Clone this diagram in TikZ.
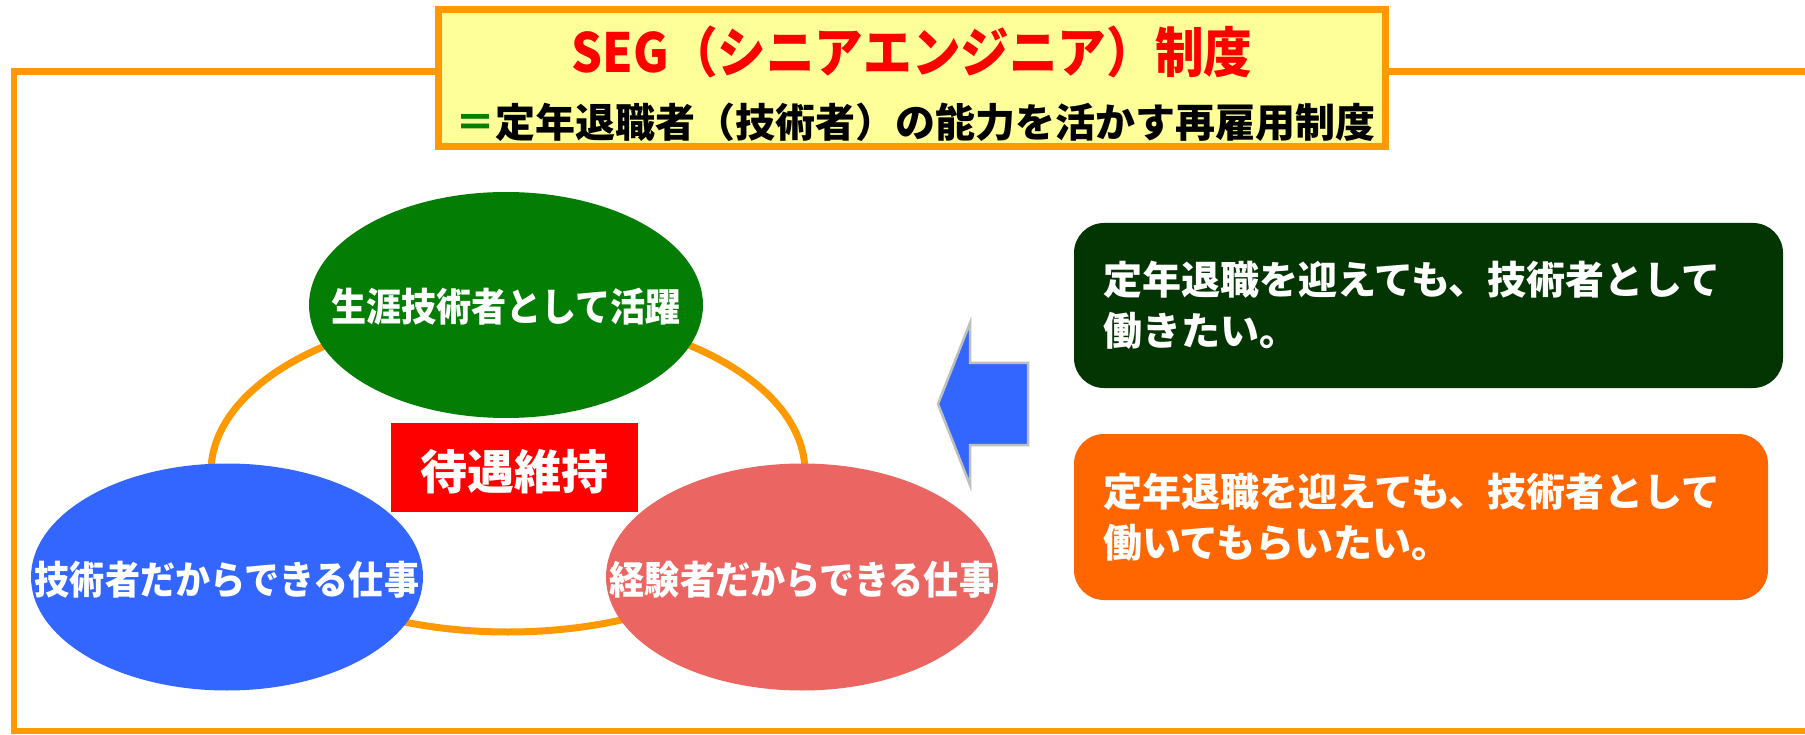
\documentclass[tikz,border=0pt]{standalone}
\usepackage{fontspec}
\usetikzlibrary{shapes.geometric}
\newfontfamily\jp{Noto Sans CJK JP}
\newcommand{\narrowtxt}[1]{\scalebox{0.9}[1]{#1}}
\definecolor{frameorange}{HTML}{FF9900}
\definecolor{titlefill}{HTML}{FFFF99}
\definecolor{ellgreen}{HTML}{037D03}
\definecolor{ellblue}{HTML}{3366FF}
\definecolor{ellsalmon}{HTML}{EB6662}
\definecolor{boxgreen}{HTML}{033503}
\definecolor{boxorange}{HTML}{FF6600}
\definecolor{eqgreen}{HTML}{008000}
\definecolor{arrowgrey}{HTML}{BFBFBF}
\definecolor{treatred}{HTML}{FF0000}
\tikzset{
  frameline/.style={draw=frameorange, line width=6.5pt},
  ring/.style={ellipse, draw=frameorange, line width=7pt, inner sep=0pt},
  blob/.style={ellipse, draw=none, inner sep=0pt},
  blobtext/.style={text=white, inner sep=0pt, font={\jp\bfseries\fontsize{39}{46}\selectfont}},
  treatbox/.style={fill=treatred, inner sep=0pt, minimum width=247pt, minimum height=89pt},
  treattext/.style={text=white, inner sep=0pt, font={\jp\bfseries\fontsize{47}{56}\selectfont}},
  msgbox/.style={rounded corners=30pt, draw=none, text=white, align=left, text width=651pt,
    inner xsep=29pt, inner ysep=0pt, font={\jp\bfseries\fontsize{39}{51}\selectfont}},
  titlebox/.style={draw=frameorange, line width=7pt, fill=titlefill, inner sep=0pt,
    minimum width=947pt, minimum height=137pt},
  titleone/.style={text=treatred, inner sep=0pt, font={\jp\bfseries\fontsize{54}{60}\selectfont}},
  titletwo/.style={text=black, inner sep=0pt, font={\jp\bfseries\fontsize{40}{48}\selectfont}},
  bigarrow/.style={draw=arrowgrey, line width=2.5pt, fill=ellblue, line join=miter}
}
\begin{document}
\begin{tikzpicture}[x=1pt,y=-1pt]
\useasboundingbox (0,0) rectangle (1805,735);
\clip (0,0) rectangle (1805,735);
\fill[white] (0,0) rectangle (1805,735);

% outer frame
\coordinate (frTL) at (14,71.5);
\coordinate (frBL) at (14,731);
\coordinate (frTR) at (1830,71.5);
\coordinate (frBR) at (1830,731);
\draw[frameline] (frTR) -- (frTL) -- (frBL) -- (frBR);

% ring and ellipses
\node[ring, minimum width=594pt, minimum height=320pt] (ring) at (508,472) {};
\node[blob, fill=ellgreen, minimum width=394pt, minimum height=226pt] (green) at (506,305) {};
\node[blob, fill=ellblue, minimum width=392pt, minimum height=227pt] (blue) at (227,577) {};
\node[blob, fill=ellsalmon, minimum width=392pt, minimum height=227pt] (salmon) at (802,577) {};
\node[blobtext] (greentxt) at (506,307) {\narrowtxt{生涯技術者として活躍}};
\node[blobtext] (bluetxt) at (227,580) {\narrowtxt{技術者だからできる仕事}};
\node[blobtext] (salmontxt) at (802,580) {\narrowtxt{経験者だからできる仕事}};

% treatment box
\node[treatbox] (treat) at (514.5,467.5) {};
\node[treattext] (treattxt) at (514,472) {待遇維持};

% arrow
\path[bigarrow] (938,404) -- (970,323) -- (970,363) -- (1028,363) -- (1028,445)
  -- (970,445) -- (970,485) -- cycle;

% message boxes
\node[msgbox, fill=boxgreen, minimum width=709pt, minimum height=165pt] (wish) at (1428.5,305.5)
  {定年退職を迎えても、技術者として\\働きたい。};
\node[msgbox, fill=boxorange, minimum width=694pt, minimum height=166pt, text width=636pt] (want) at (1421,517)
  {定年退職を迎えても、技術者として\\働いてもらいたい。};

% title
\node[titlebox] (title) at (912,78) {};
\node[titleone] (t1) at (912,52) {\narrowtxt{SEG（シニアエンジニア）制度}};
\node[titletwo] (t2) at (915,122) {{\color{eqgreen}＝}定年退職者（技術者）の能力を活かす再雇用制度};
\end{tikzpicture}
\end{document}
